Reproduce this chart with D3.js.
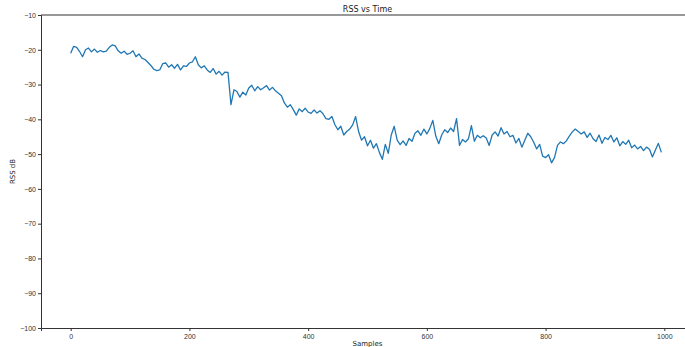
<!DOCTYPE html>
<html>
<head>
<meta charset="utf-8">
<script src="https://cdn.jsdelivr.net/npm/d3@7"></script>
<style>
  html, body { margin: 0; padding: 0; background: #fff; }
  svg { display: block; font-family: "DejaVu Sans", sans-serif; }
  .axis path, .axis line { stroke: #333; }
  .axis text { fill: #333; font-size: 7px; }
</style>
</head>
<body>
<svg width="685" height="347"></svg>
<script>
// dados (um valor a cada 5 amostras)
const sampleStep = 5;
const rss = [
  -21.0, -19.0, -19.3, -20.5, -22.0, -20.0, -19.5, -20.6, -19.8, -20.7,
  -20.2, -20.6, -20.4, -19.3, -18.6, -18.9, -20.3, -21.0, -20.4, -21.3,
  -21.0, -20.3, -22.0, -21.2, -22.4, -22.8, -23.6, -24.5, -25.6, -26.0,
  -25.8, -24.0, -23.8, -25.0, -24.3, -25.3, -24.2, -25.8, -24.6, -24.8,
  -23.8, -23.5, -22.0, -24.3, -25.2, -24.6, -25.8, -26.5, -25.4, -27.0,
  -26.2, -27.3, -26.4, -26.5, -35.8, -31.5, -32.0, -33.6, -32.2, -33.0,
  -31.0, -30.2, -31.8, -30.6, -31.5, -30.9, -30.3, -31.6, -30.8, -31.8,
  -32.5, -33.2, -35.3, -36.5, -35.8, -37.2, -38.8, -37.0, -37.8, -36.8,
  -37.9, -38.3, -37.3, -38.2, -37.5, -38.4, -39.8, -40.0, -39.2, -41.5,
  -43.0, -42.0, -44.5, -43.5, -42.8, -41.6, -39.2, -43.5, -46.0, -45.0,
  -47.6, -46.0, -48.3, -47.0, -49.5, -51.5, -47.2, -49.8, -44.5, -42.0,
  -46.0, -47.3, -46.2, -47.5, -45.5, -46.3, -44.0, -43.3, -44.6, -42.8,
  -44.2, -42.6, -40.3, -44.8, -47.0, -44.5, -43.0, -43.8, -42.5, -43.5,
  -39.8, -47.5, -45.8, -46.5, -45.6, -41.8, -46.3, -44.6, -45.3, -44.7,
  -45.4, -47.5, -44.5, -43.6, -44.8, -42.4, -44.2, -43.5, -45.0, -44.6,
  -46.8, -45.5, -48.0, -46.0, -44.0, -45.0, -46.6, -48.5, -47.2, -50.6,
  -51.0, -50.2, -52.5, -51.0, -47.5, -46.5, -47.0, -46.2, -44.8, -43.6,
  -42.8, -43.5, -44.2, -43.6, -45.2, -44.0, -45.6, -46.4, -44.5, -46.9,
  -45.2, -45.8, -44.6, -46.5, -45.3, -47.6, -46.4, -47.2, -46.0, -48.2,
  -47.4, -48.5, -47.8, -49.0, -48.0, -48.6, -50.8, -48.8, -46.9, -49.5
];
const xTicks = [0, 200, 400, 600, 800, 1000];
const yTicks = [-100, -90, -80, -70, -60, -50, -40, -30, -20, -10];

const svg = d3.select("svg");
const margin = { left: 41, top: 15, right: 694, bottom: 328 };

const x = d3.scaleLinear().domain([-50, 1050]).range([margin.left, margin.right]);
const y = d3.scaleLinear().domain([-100, -10]).range([margin.bottom, margin.top]);

const fmt = d => String(d).replace("-", "\u2212");

// eixos
svg.append("g")
  .attr("class", "axis")
  .attr("transform", `translate(0,${margin.bottom})`)
  .call(d3.axisBottom(x).tickValues(xTicks).tickSize(3).tickPadding(3).tickFormat(fmt));

svg.append("g")
  .attr("class", "axis")
  .attr("transform", `translate(${margin.left},0)`)
  .call(d3.axisLeft(y).tickValues(yTicks).tickSize(3).tickPadding(2).tickFormat(fmt));

// borda superior e direita
svg.append("line")
  .attr("x1", margin.left).attr("x2", margin.right)
  .attr("y1", margin.top).attr("y2", margin.top)
  .attr("stroke", "#333");
svg.append("line")
  .attr("x1", margin.right).attr("x2", margin.right)
  .attr("y1", margin.top).attr("y2", margin.bottom)
  .attr("stroke", "#333");

// linha da série
const line = d3.line()
  .x((d, i) => x(i * sampleStep))
  .y(d => y(d));

svg.append("path")
  .datum(rss)
  .attr("fill", "none")
  .attr("stroke", "#1f77b4")
  .attr("stroke-width", 1.3)
  .attr("stroke-linejoin", "round")
  .attr("d", line);

// título e rótulos
svg.append("text")
  .attr("x", (margin.left + margin.right) / 2)
  .attr("y", 12)
  .attr("text-anchor", "middle")
  .attr("font-size", 8)
  .attr("fill", "#222")
  .text("RSS vs Time");

svg.append("text")
  .attr("x", (margin.left + margin.right) / 2)
  .attr("y", 346)
  .attr("text-anchor", "middle")
  .attr("font-size", 7)
  .attr("fill", "#222")
  .text("Samples");

svg.append("text")
  .attr("transform", `translate(15,${(margin.top + margin.bottom) / 2}) rotate(-90)`)
  .attr("text-anchor", "middle")
  .attr("font-size", 7)
  .attr("fill", "#222")
  .text("RSS dB");
</script>
</body>
</html>
